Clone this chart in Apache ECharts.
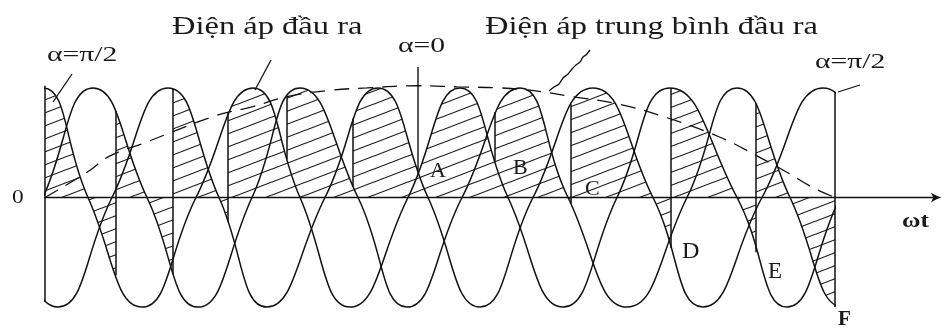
<!DOCTYPE html>
<html>
<head>
<meta charset="utf-8">
<title>Điện áp đầu ra</title>
<script src="https://cdn.jsdelivr.net/npm/echarts@6.0.0/dist/echarts.min.js"></script>
<style>
  html, body { margin: 0; padding: 0; background: #fff; }
  #chart { width: 942px; height: 329px; }
</style>
</head>
<body>
<div id="chart"></div>
<script>
// ωt in drawing units (0 = start of the output window), voltage normalised to the supply peak.
// Key points of the three supply phases: zero crossings, crests and troughs.
const phaseA = [[-102,0],[-52,-1],[-2,0],[48,1],[102,0],[153,-1],[207,0],[255,1],[313,0],[362,-1],
                [417,0],[475,1],[523,0],[582,-1],[642,0],[692,1],[745,0],[798,-1],[851,0]];
const phaseB = [[-149,0],[-95,1],[-41,0],[13,-1],[67,0],[123,1],[174,0],[222,-1],[280,0],[333,1],
                [383,0],[435,-1],[488,0],[548,1],[608,0],[658,-1],[717,0],[778,1],[833,0],[888,-1],[943,0]];
const phaseC = [[-57,0],[-2,1],[43,0],[97,-1],[151,0],[208,1],[255,0],[305,-1],[363,0],[415,1],
                [463,0],[518,-1],[572,0],[625,1],[692,0],[742,-1],[795,0],[850,1],[905,0]];

// Output window and the conduction intervals (boundaries and the phase that conducts in each).
const windowEnd = 790;
const segBounds = [0, 71, 128, 183, 242, 308, 373, 450, 526, 626, 711, 790];
const segPhase  = ['C', 'A', 'B', 'C', 'A', 'B', 'C', 'A', 'B', 'C', 'A'];

// Commutation jumps: position and the two voltages that the jump joins.
const jumpX      = [0,    71,    128,   183,   242,  308,  450,  526,   626,   711,  790];
const jumpTop    = [1.02, 0.79,  0.99,  0.77,  0.93, 0.72, 0.78, 0.85,  1.0,   0.86, 0.96];
const jumpBottom = [-0.95,-0.71, -0.70, -0.22, 0.35, 0.10, 0.33, -0.06, -0.46, -0.5, -1.0];

// Marker of the instant where the firing angle is zero.
const alphaZeroX = 373;
const alphaZeroSpan = [1.19, 0.22];

// Mean value of the output voltage.
const meanWt = [0, 42, 65, 100, 125, 172, 208, 242, 288, 322, 373, 412, 455, 485, 528, 575, 618, 675, 718, 742, 768, 790];
const meanV  = [0, 0.23, 0.38, 0.5, 0.59, 0.75, 0.83, 0.92, 0.98, 1.0, 1.02, 1.01, 1.0, 0.98, 0.92, 0.85, 0.74, 0.55, 0.35, 0.23, 0.09, 0];

const phases = { A: phaseA, B: phaseB, C: phaseC };
const INK = '#111';

// Diagonal hatch used for the area between the output voltage and the axis.
function makeHatch() {
  const w = 34, h = 13;
  const c = document.createElement('canvas');
  c.width = w; c.height = h;
  const g = c.getContext('2d');
  g.strokeStyle = '#1a1a1a';
  g.lineWidth = 1.15;
  for (const dx of [-w, 0, w]) {
    for (const dy of [-h, 0, h]) {
      g.beginPath();
      g.moveTo(dx, h + dy);
      g.lineTo(dx + w, dy);
      g.stroke();
    }
  }
  return c;
}
const hatch = { image: makeHatch(), repeat: 'repeat' };

const chart = echarts.init(document.getElementById('chart'), null, { renderer: 'canvas' });

const serif = '"Liberation Serif", "Times New Roman", serif';

function label(text, x, y, size, sx, extra) {
  return Object.assign({
    type: 'text', x: x, y: y, scaleX: sx, silent: true, z: 10,
    style: { text: text, font: size + 'px ' + serif, fill: '#1a1a1a', verticalAlign: 'middle', align: 'left' }
  }, extra || {});
}

chart.setOption({
  animation: false,
  backgroundColor: '#fff',
  grid: { left: 45, right: 2, top: 66, height: 264 },
  xAxis: {
    type: 'value', min: 0, max: 895,
    axisLine: { show: true, onZero: true, symbol: ['none', 'arrow'], symbolSize: [7, 9],
                lineStyle: { color: INK, width: 1.3 } },
    axisTick: { show: false }, axisLabel: { show: false }, splitLine: { show: false }
  },
  yAxis: {
    type: 'value', min: -1.2, max: 1.2, show: false, splitLine: { show: false }
  },
  series: [
    {
      // hatched area under the output voltage, one interval per item
      type: 'custom', silent: true, z: 1,
      data: segPhase.map((p, i) => [segBounds[i], segBounds[i + 1]]),
      renderItem: function (params, api) {
        const i = params.dataIndex;
        const pts = phases[segPhase[i]].map(p => api.coord(p));
        const a = api.coord([segBounds[i], 0]);
        const b = api.coord([segBounds[i + 1], 0]);
        return {
          type: 'polyline',
          shape: { points: pts, smooth: 0.5 },
          style: { fill: hatch, stroke: null, lineWidth: 0 },
          clipPath: { type: 'rect', shape: { x: a[0], y: 0, width: b[0] - a[0], height: api.getHeight() } }
        };
      }
    },
    {
      // the three supply phase voltages
      type: 'custom', silent: true, z: 3,
      data: ['A', 'B', 'C'].map((k, i) => [i]),
      renderItem: function (params, api) {
        const key = ['A', 'B', 'C'][params.dataIndex];
        const pts = phases[key].map(p => api.coord(p));
        const a = api.coord([0, 0]);
        const b = api.coord([windowEnd, 0]);
        return {
          type: 'polyline',
          shape: { points: pts, smooth: 0.5 },
          style: { fill: null, stroke: INK, lineWidth: 1.5 },
          clipPath: { type: 'rect', shape: { x: a[0] - 1, y: 0, width: b[0] - a[0] + 2, height: api.getHeight() } }
        };
      }
    },
    {
      // commutation jumps of the output voltage
      type: 'custom', silent: true, z: 4,
      data: jumpX.map((x, i) => [x, jumpTop[i], jumpBottom[i]]),
      renderItem: function (params, api) {
        const p1 = api.coord([api.value(0), api.value(1)]);
        const p2 = api.coord([api.value(0), api.value(2)]);
        return {
          type: 'line',
          shape: { x1: p1[0], y1: p1[1], x2: p2[0], y2: p2[1] },
          style: { stroke: INK, lineWidth: 1.5 }
        };
      }
    },
    {
      // α = 0 marker
      type: 'custom', silent: true, z: 4,
      data: [[alphaZeroX, alphaZeroSpan[0], alphaZeroSpan[1]]],
      renderItem: function (params, api) {
        const p1 = api.coord([api.value(0), api.value(1)]);
        const p2 = api.coord([api.value(0), api.value(2)]);
        return {
          type: 'line',
          shape: { x1: p1[0], y1: p1[1], x2: p2[0], y2: p2[1] },
          style: { stroke: INK, lineWidth: 1.4 }
        };
      }
    },
    {
      // mean output voltage
      type: 'line', silent: true, z: 5, clip: false,
      data: meanWt.map((x, i) => [x, meanV[i]]),
      smooth: 0.4, showSymbol: false, symbol: 'none',
      lineStyle: { color: INK, width: 1.3, type: [15, 9] }
    }
  ],
  graphic: [
    label('Điện áp đầu ra', 172, 27, 25, 1.3),
    label('Điện áp trung bình đầu ra', 485, 27, 25, 1.3),
    label('α=π/2', 47, 55, 22, 1.35),
    label('α=0', 398, 46, 22, 1.35),
    label('α=π/2', 815, 62, 22, 1.35),
    label('0', 12, 198, 18, 1.3),
    label('ωt', 902, 222, 21, 1.2, { style: { text: 'ωt', font: 'bold 21px ' + serif, fill: '#1a1a1a', verticalAlign: 'middle' } }),
    label('A', 430, 171, 22, 1.0),
    label('B', 513, 168, 22, 1.0),
    label('C', 585, 189, 22, 1.0),
    label('D', 682, 252, 23, 1.05),
    label('E', 768, 272, 23, 1.0),
    label('F', 838, 320, 21, 1.0, { style: { text: 'F', font: 'bold 21px ' + serif, fill: '#1a1a1a', verticalAlign: 'middle' } }),
    // leader lines of the annotations
    { type: 'line', silent: true, z: 6, shape: { x1: 271, y1: 60, x2: 255, y2: 90 }, style: { stroke: INK, lineWidth: 1.3 } },
    { type: 'line', silent: true, z: 6, shape: { x1: 72, y1: 74, x2: 53, y2: 102 }, style: { stroke: INK, lineWidth: 1.3 } },
    { type: 'line', silent: true, z: 6, shape: { x1: 838, y1: 92, x2: 860, y2: 85 }, style: { stroke: INK, lineWidth: 1.3 } },
    { type: 'polyline', silent: true, z: 6,
      shape: { points: [[590, 50], [586, 55], [583, 57], [580, 62], [576, 65], [572, 69], [568, 74], [563, 78], [559, 84], [554, 87], [549, 91]], smooth: 0.3 },
      style: { stroke: INK, lineWidth: 1.3, fill: null } }
  ]
});
</script>
</body>
</html>
